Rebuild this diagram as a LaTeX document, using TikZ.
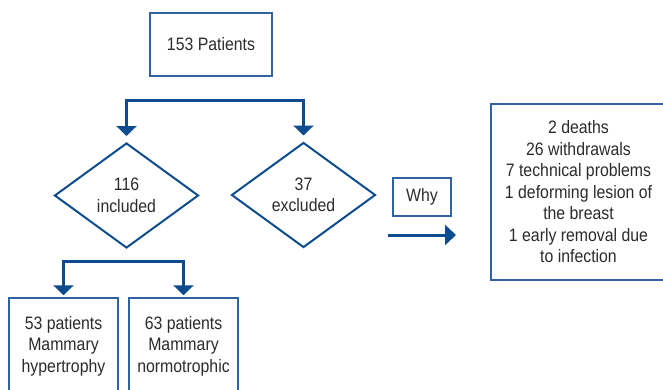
\documentclass[tikz,border=0pt]{standalone}
\usepackage{fontspec}
\setmainfont{Liberation Sans}[FakeStretch=0.88]
\usetikzlibrary{shapes.geometric,arrows.meta}
\definecolor{conncol}{HTML}{0D4C8E}
\definecolor{boxcol}{HTML}{2F64A0}
\definecolor{txtcol}{HTML}{2B2B2B}
\begin{document}
\begin{tikzpicture}[x=1pt,y=-1pt,
  every node/.style={text=txtcol,font=\fontsize{18}{21.5}\selectfont,align=center,inner sep=0pt},
  rbox/.style={draw=boxcol,line width=1.5pt,rectangle},
  dbox/.style={draw=conncol,line width=2pt,diamond,minimum width=144pt,minimum height=105pt},
  conn/.style={draw=conncol,line width=3pt,-{Triangle[width=20pt,length=10pt]}}]
\useasboundingbox (0,0) rectangle (663,389);
\clip (0,0) rectangle (663,389);
\node[rbox,minimum width=122pt,minimum height=63pt] (top) at (211,44.5) {153 Patients};
\node[dbox] (inc) at (126.5,195.5) {116\\included};
\node[dbox] (exc) at (303.5,195) {37\\excluded};
\node[rbox,minimum width=58pt,minimum height=38pt] (why) at (422,197) {Why};
\node[rbox,minimum width=175pt,minimum height=176pt] (reasons) at (578.5,192) {2 deaths\\26 withdrawals\\7 technical problems\\1 deforming lesion of\\the breast\\1 early removal due\\to infection};
\node[rbox,minimum width=109pt,minimum height=96pt] (hyp) at (63.5,346) {53 patients\\Mammary\\hypertrophy};
\node[rbox,minimum width=109pt,minimum height=96pt] (nor) at (183.5,346) {63 patients\\Mammary\\normotrophic};
\coordinate (sp1) at (214,100);
\coordinate (sp2) at (123,261);
\coordinate (wa) at (388,235);
\coordinate (wb) at (456,235);
\draw[conn,shorten >=6pt] (sp1) -| (inc.north);
\draw[conn,shorten >=6pt] (sp1) -| (exc.north);
\draw[conn,shorten >=2pt] (sp2) -| (hyp.north);
\draw[conn,shorten >=2pt] (sp2) -| (nor.north);
\draw[conn,-{Triangle[width=20pt,length=11pt]}] (wa) -- (wb);
\end{tikzpicture}
\end{document}
